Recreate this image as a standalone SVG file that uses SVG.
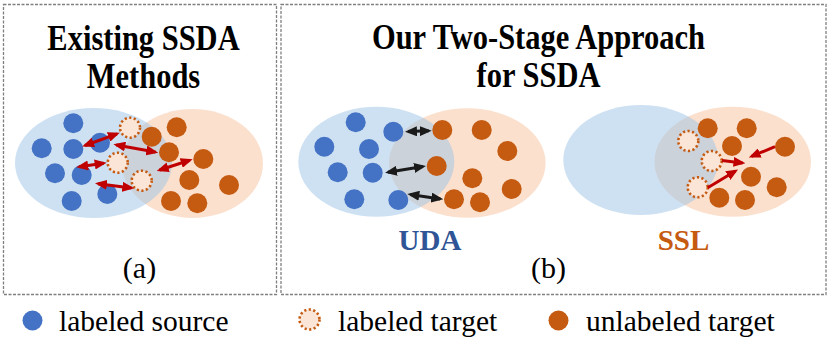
<svg xmlns="http://www.w3.org/2000/svg" width="830" height="342" viewBox="0 0 830 342">
<style>
text{font-family:'Liberation Serif','Times New Roman',Times,serif}
.panel{fill:none;stroke:#7f7f7f;stroke-width:1.3;stroke-dasharray:3 1.5}
.title{font-weight:bold;font-size:30.5px;fill:#000;text-anchor:middle}
.cap{font-size:30px;fill:#000;text-anchor:middle}
.leg{font-size:29.5px;fill:#000}
.stage{font-weight:bold;font-size:29px;text-anchor:middle}
.eb{fill:#9DC3E6;fill-opacity:0.5}
.eo{fill:#F8CBAD;fill-opacity:0.6}
.s{fill:#4472C4}
.u{fill:#C55A11}
.l{fill:#FBE5D6;stroke:#C55A11;stroke-width:2.6;stroke-dasharray:2.2 2.4}
.ra{stroke:#C00000;stroke-width:3;fill:none}
.ka{stroke:#1a1a1a;stroke-width:3;fill:none}
</style>
<defs>
<marker id="hr" viewBox="0 0 12 10" refX="9" refY="5" markerWidth="12" markerHeight="10" markerUnits="userSpaceOnUse" orient="auto-start-reverse"><path d="M0,0 L12,5 L0,10 z" fill="#C00000"/></marker>
<marker id="hk" viewBox="0 0 12 10" refX="9" refY="5" markerWidth="12" markerHeight="10" markerUnits="userSpaceOnUse" orient="auto-start-reverse"><path d="M0,0 L12,5 L0,10 z" fill="#1a1a1a"/></marker>
</defs>

<g id="panel-a">
<rect class="panel" x="3.5" y="4.5" width="273" height="290"/>
<text class="title" transform="translate(143.5,50) scale(1,1.2)">Existing SSDA</text>
<text class="title" transform="translate(143.5,88) scale(1,1.2)">Methods</text>
<text class="cap" x="139.5" y="278">(a)</text>
</g>
<g id="panel-b">
<rect class="panel" x="281" y="4.5" width="545" height="290"/>
<text class="title" transform="translate(538.5,49) scale(1,1.2)">Our Two-Stage Approach</text>
<text class="title" transform="translate(538.5,87) scale(1,1.2)">for SSDA</text>
<text class="cap" x="548.5" y="278">(b)</text>
</g>

<g id="domain-a">
<ellipse class="eo" cx="192.5" cy="163.5" rx="70.5" ry="54.5"/>
<ellipse class="eb" cx="93.5" cy="163" rx="78.5" ry="55"/>
<circle class="s" cx="73.3" cy="123.3" r="10"/>
<circle class="s" cx="41.7" cy="148.3" r="10"/>
<circle class="s" cx="73.3" cy="149" r="10"/>
<circle class="s" cx="100" cy="142.7" r="10"/>
<circle class="s" cx="55" cy="173.3" r="10"/>
<circle class="s" cx="81.7" cy="175" r="10"/>
<circle class="s" cx="71.7" cy="201" r="10"/>
<circle class="s" cx="107.3" cy="194" r="10"/>
<circle class="u" cx="151.7" cy="136.7" r="10"/>
<circle class="u" cx="176.7" cy="127.3" r="10"/>
<circle class="u" cx="169" cy="152.3" r="10"/>
<circle class="u" cx="203.3" cy="159" r="10"/>
<circle class="u" cx="189.3" cy="180" r="10"/>
<circle class="u" cx="229" cy="185" r="10"/>
<circle class="u" cx="171" cy="201" r="10"/>
<circle class="u" cx="197.3" cy="203.3" r="10"/>
<circle class="l" cx="130" cy="127.7" r="10"/>
<circle class="l" cx="117.7" cy="162.7" r="10"/>
<circle class="l" cx="141.7" cy="180.7" r="10"/>
</g>

<g id="uda">
<ellipse class="eo" cx="467.3" cy="163" rx="78.3" ry="54.7"/>
<ellipse class="eb" cx="376.3" cy="161.7" rx="78" ry="55"/>
<circle class="s" cx="355.7" cy="122.3" r="10"/>
<circle class="s" cx="393.3" cy="131.7" r="10"/>
<circle class="s" cx="324.3" cy="146.7" r="10"/>
<circle class="s" cx="369" cy="149" r="10"/>
<circle class="s" cx="337.7" cy="172.3" r="10"/>
<circle class="s" cx="372.7" cy="172.7" r="10"/>
<circle class="s" cx="354.3" cy="199.3" r="10"/>
<circle class="s" cx="398.3" cy="200" r="10"/>
<circle class="u" cx="442.3" cy="130" r="10"/>
<circle class="u" cx="481.7" cy="130" r="10"/>
<circle class="u" cx="507.3" cy="151" r="10"/>
<circle class="u" cx="436.7" cy="166" r="10"/>
<circle class="u" cx="472.3" cy="178.3" r="10"/>
<circle class="u" cx="511.7" cy="189" r="10"/>
<circle class="u" cx="454" cy="199.3" r="10"/>
<circle class="u" cx="480" cy="202.3" r="10"/>
<text class="stage" x="430" y="250" fill="#2F5597">UDA</text>
</g>

<g id="ssl">
<ellipse class="eo" cx="732.7" cy="161.7" rx="78.3" ry="55"/>
<ellipse class="eb" cx="640.8" cy="160" rx="77.5" ry="55"/>
<circle class="u" cx="707.7" cy="128.3" r="10"/>
<circle class="u" cx="746.7" cy="128.3" r="10"/>
<circle class="u" cx="732" cy="146" r="10"/>
<circle class="u" cx="785" cy="146.7" r="10"/>
<circle class="u" cx="751" cy="176.7" r="10"/>
<circle class="u" cx="776.7" cy="187.3" r="10"/>
<circle class="u" cx="719.3" cy="197.7" r="10"/>
<circle class="u" cx="745" cy="200" r="10"/>
<circle class="l" cx="688.3" cy="141" r="10"/>
<circle class="l" cx="711.7" cy="161" r="10"/>
<circle class="l" cx="697.7" cy="187.3" r="10"/>
<text class="stage" x="683.5" y="250" fill="#C55A11">SSL</text>
</g>

<g id="connectors">
<line class="ra" x1="117" y1="133.8" x2="85" y2="145.5" marker-start="url(#hr)" marker-end="url(#hr)"/>
<line class="ra" x1="116.3" y1="144.9" x2="155.3" y2="152.1" marker-start="url(#hr)" marker-end="url(#hr)"/>
<line class="ra" x1="103.7" y1="163.2" x2="79.2" y2="166.8" marker-start="url(#hr)" marker-end="url(#hr)"/>
<line class="ra" x1="189.8" y1="160.2" x2="159.6" y2="170" marker-start="url(#hr)" marker-end="url(#hr)"/>
<line class="ra" x1="98" y1="183.7" x2="131.3" y2="187.9" marker-start="url(#hr)" marker-end="url(#hr)"/>
<line class="ka" x1="408" y1="131.6" x2="428.7" y2="130.8" marker-start="url(#hk)" marker-end="url(#hk)"/>
<line class="ka" x1="388" y1="172.2" x2="423" y2="166.5" marker-start="url(#hk)" marker-end="url(#hk)"/>
<line class="ka" x1="410.3" y1="194.4" x2="440.3" y2="198.9" marker-start="url(#hk)" marker-end="url(#hk)"/>
<line class="ra" x1="722" y1="160.5" x2="742.5" y2="163" marker-end="url(#hr)"/>
<line class="ra" x1="707.7" y1="187.7" x2="735.5" y2="171" marker-end="url(#hr)"/>
<line class="ra" x1="775" y1="146.7" x2="751.5" y2="156.4" marker-end="url(#hr)"/>
</g>

<g id="legend">
<circle class="s" cx="32.5" cy="320.5" r="10"/>
<text class="leg" x="59" y="331">labeled source</text>
<circle class="l" cx="309.5" cy="319.5" r="10"/>
<text class="leg" x="338" y="331">labeled target</text>
<circle class="u" cx="558.5" cy="320.5" r="10"/>
<text class="leg" x="586" y="331">unlabeled target</text>
</g>
</svg>
